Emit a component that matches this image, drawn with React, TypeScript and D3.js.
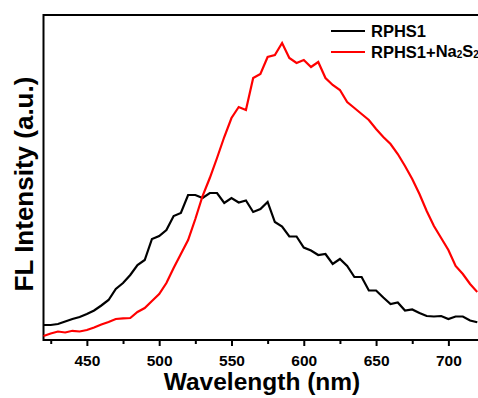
import { useEffect, useRef } from 'react';
import * as d3 from 'd3';

// wavelength grid (nm), 5 nm steps
const wavelengths = d3.range(420, 721, 5);

// FL intensity (a.u.)
const rphs1 = [
  15, 15, 16, 18.5, 21, 23, 26, 29.5, 34.5, 40, 51, 57, 65, 75, 80, 101, 104, 110, 124, 127,
  145, 145, 142, 147, 147, 137, 142, 137.5, 139.5, 128, 131, 138, 118, 113.5, 103.5, 103.5,
  92.5, 89.5, 85, 86, 76, 81, 74, 63, 63, 49.5, 49.5, 42.5, 36, 37.5, 29.5, 30.5, 27, 24,
  23.5, 24, 21, 23.5, 23.5, 19.5, 17.7,
];
const rphs1Na2S2 = [
  4, 6.5, 8.5, 7.5, 9.2, 8.5, 10, 12.5, 15.5, 18, 21, 21.7, 22, 28, 32, 39, 46, 57, 72, 86,
  100, 121, 144, 162, 182, 203, 222, 233, 230, 262, 266, 283, 285, 297, 282, 277, 280, 273,
  278, 262, 255, 250, 238, 232, 226, 220, 211, 203, 196, 186, 174, 161, 146, 129, 114, 102,
  90, 74, 66, 56, 48,
];

const majorTicks = [450, 500, 550, 600, 650, 700];
const minorTicks = [425, 475, 525, 575, 625, 675, 725];

const seriesNames = ['RPHS1', 'RPHS1+Na2S2'];
const seriesColors = ['#000000', '#ff0000'];

const FONT = '"Liberation Sans", Arial, Helvetica, sans-serif';

export default function App() {
  const svgRef = useRef<SVGSVGElement>(null);

  useEffect(() => {
    if (!svgRef.current) return;
    const width = 478;
    const height = 398;
    const svg = d3.select(svgRef.current);
    svg.selectAll('*').remove();
    svg.attr('width', width).attr('height', height);

    const x = d3.scaleLinear().domain([420, 720]).range([43.5, 477.3]);
    const y = d3.scaleLinear().domain([0, 325]).range([340, 15]);

    // frame (right edge falls outside the picture)
    svg
      .append('rect')
      .attr('x', x(420))
      .attr('y', y(325))
      .attr('width', x(720) - x(420) + 6)
      .attr('height', y(0) - y(325))
      .attr('fill', 'none')
      .attr('stroke', '#000')
      .attr('stroke-width', 2);

    // spectra
    const line = d3
      .line<number>()
      .x((_, i) => x(wavelengths[i]))
      .y((d) => y(d));

    [rphs1, rphs1Na2S2].forEach((values, idx) => {
      svg
        .append('path')
        .datum(values)
        .attr('d', line)
        .attr('fill', 'none')
        .attr('stroke', seriesColors[idx])
        .attr('stroke-width', 2.2)
        .attr('stroke-linejoin', 'miter');
    });

    // x axis: major + minor ticks
    const xAxis = svg
      .append('g')
      .attr('transform', `translate(0,${y(0)})`)
      .call(d3.axisBottom(x).tickValues(majorTicks).tickSize(6).tickSizeOuter(0).tickPadding(9));
    xAxis.select('.domain').remove();
    xAxis.selectAll('line').attr('stroke-width', 2);
    xAxis
      .selectAll('text')
      .attr('font-family', FONT)
      .attr('font-weight', 'bold')
      .attr('font-size', 15.5)
      .attr('fill', '#000');

    const xMinor = svg
      .append('g')
      .attr('transform', `translate(0,${y(0)})`)
      .call(d3.axisBottom(x).tickValues(minorTicks).tickSize(4).tickSizeOuter(0).tickFormat(() => ''));
    xMinor.select('.domain').remove();
    xMinor.selectAll('line').attr('stroke-width', 2);

    // axis titles
    svg
      .append('text')
      .attr('x', 262)
      .attr('y', 390)
      .attr('text-anchor', 'middle')
      .attr('font-family', FONT)
      .attr('font-weight', 'bold')
      .attr('font-size', 24.5)
      .text('Wavelength (nm)');

    svg
      .append('text')
      .attr('transform', 'translate(33,184) rotate(-90)')
      .attr('text-anchor', 'middle')
      .attr('font-family', FONT)
      .attr('font-weight', 'bold')
      .attr('font-size', 26)
      .text('FL Intensity (a.u.)');

    // legend
    const legend = svg.append('g').attr('transform', 'translate(331,31)');
    seriesNames.forEach((name, i) => {
      legend
        .append('line')
        .attr('x1', 0)
        .attr('x2', 34)
        .attr('y1', i * 21)
        .attr('y2', i * 21)
        .attr('stroke', seriesColors[i])
        .attr('stroke-width', 2.2);
      const t = legend
        .append('text')
        .attr('x', 40)
        .attr('y', i * 21 + 6)
        .attr('font-family', FONT)
        .attr('font-weight', 'bold')
        .attr('font-size', 16.5)
        .attr('fill', '#000');
      // digits after element letters become subscripts (Na2S2)
      const parts = name.split('+');
      t.append('tspan').text(parts[0]);
      if (parts[1]) {
        t.append('tspan').text('+');
        parts[1].split(/(\d)/).filter(Boolean).forEach((p) => {
          const isSub = /\d/.test(p);
          t.append('tspan')
            .attr('font-size', isSub ? 10 : 16.5)
            .attr('dy', isSub ? 1.5 : -1.5)
            .text(p);
        });
      }
    });
  }, []);

  return (
    <div style={{ position: 'fixed', left: 0, top: 0, width: 478, height: 398, overflow: 'hidden', background: '#fff' }}>
      <svg ref={svgRef} style={{ display: 'block' }} />
    </div>
  );
}
